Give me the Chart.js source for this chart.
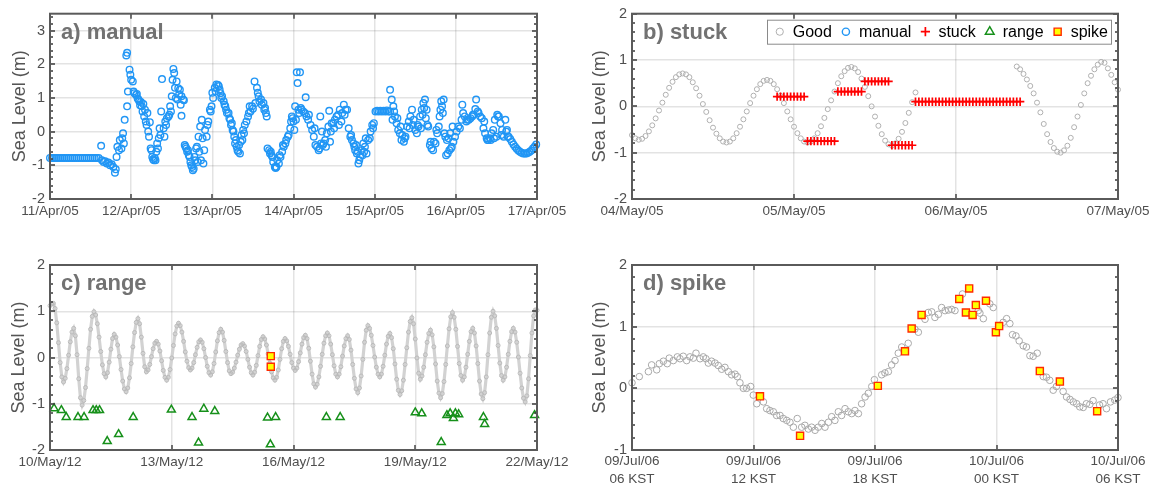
<!DOCTYPE html>
<html>
<head>
<meta charset="utf-8">
<script src="https://cdn.jsdelivr.net/npm/chart.js@4.4.1/dist/chart.umd.min.js"></script>
<style>
html, body { margin: 0; padding: 0; background: #fff; }
#wrap { position: relative; width: 1156px; height: 490px; overflow: hidden; }
canvas { position: absolute; }
</style>
</head>
<body>
<div id="wrap">
  <canvas id="pa" width="578" height="245" style="left:0;top:0;width:578px;height:245px"></canvas>
  <canvas id="pb" width="578" height="245" style="left:578px;top:0;width:578px;height:245px"></canvas>
  <canvas id="pc" width="578" height="245" style="left:0;top:245px;width:578px;height:245px"></canvas>
  <canvas id="pd" width="578" height="245" style="left:578px;top:245px;width:578px;height:245px"></canvas>
</div>
<script>
// ---------- data ----------

// a) manual : [days since 11/Apr/05 00h, sea level m]
const aManual = [
  [0,-0.78],[0.025,-0.78],[0.05,-0.78],[0.075,-0.78],[0.1,-0.78],[0.125,-0.78],[0.15,-0.78],[0.175,-0.78],[0.2,-0.78],
  [0.225,-0.78],[0.25,-0.78],[0.275,-0.78],[0.3,-0.78],[0.325,-0.78],[0.35,-0.78],[0.375,-0.78],[0.4,-0.78],[0.425,-0.78],
  [0.45,-0.78],[0.475,-0.78],[0.5,-0.78],[0.525,-0.78],[0.55,-0.78],[0.575,-0.78],[0.6,-0.78],
  [0.63,-0.42],[0.64,-0.85],[0.66,-0.9],[0.68,-0.88],[0.7,-0.95],[0.72,-0.92],[0.74,-1.0],[0.76,-0.97],[0.78,-1.05],
  [0.8,-1.22],[0.81,-1.12],[0.82,-0.75],[0.83,-0.45],[0.85,-0.55],[0.86,-0.25],[0.88,-0.5],[0.89,-0.2],[0.9,-0.05],
  [0.91,-0.35],[0.92,0.35],[0.94,2.26],[0.95,2.34],[0.95,0.75],[0.96,1.19],[0.98,1.84],[0.99,1.69],[1.0,1.54],[1.02,1.49],
  [1.03,1.19],[1.04,1.14],[1.06,1.09],[1.07,1.12],[1.08,0.98],[1.09,0.95],[1.1,0.9],[1.11,0.78],[1.12,0.88],[1.13,0.75],
  [1.14,0.6],[1.15,0.82],[1.16,0.45],[1.17,0.65],[1.18,0.3],[1.19,0.2],[1.2,0.55],[1.21,0.0],[1.22,-0.15],[1.23,0.28],
  [1.24,-0.5],[1.25,-0.55],[1.26,-0.75],[1.27,-0.82],[1.28,-0.85],[1.29,-0.78],[1.3,-0.85],[1.31,-0.6],[1.32,-0.35],
  [1.33,-0.5],[1.34,-0.2],[1.35,0.1],[1.36,-0.1],[1.37,0.6],[1.38,1.56],[1.4,0.1],[1.41,-0.15],[1.42,0.3],[1.43,0.2],
  [1.44,0.4],[1.46,0.45],[1.47,0.5],[1.48,0.75],[1.49,0.6],[1.5,1.05],[1.51,1.54],[1.52,1.86],[1.53,1.74],[1.54,1.3],
  [1.55,1.0],[1.56,1.49],[1.57,0.95],[1.58,1.29],[1.59,1.1],[1.6,1.24],[1.61,0.8],[1.62,1.05],[1.62,0.47],[1.64,0.95],
  [1.65,0.93],[1.66,-0.4],[1.67,-0.45],[1.68,-0.5],[1.69,-0.6],[1.7,-0.55],[1.71,-0.7],[1.72,-0.75],[1.73,-0.9],
  [1.74,-1.0],[1.75,-1.05],[1.76,-1.15],[1.77,-1.1],[1.78,-0.75],[1.79,-0.85],[1.8,-0.5],[1.81,-0.45],[1.82,-0.9],
  [1.83,-0.15],[1.84,-0.6],[1.85,0.15],[1.86,-0.85],[1.87,0.35],[1.88,-0.2],[1.89,-0.95],[1.9,-0.55],[1.91,0.05],
  [1.93,-0.15],[1.94,0.2],[1.95,0.3],[1.97,0.65],[1.98,0.6],[1.99,0.75],[2.0,1.15],[2.01,1.0],[2.03,1.3],[2.04,1.2],
  [2.05,1.4],[2.07,1.38],[2.08,1.35],[2.09,1.25],[2.1,1.14],[2.11,1.0],[2.12,1.05],[2.14,0.9],[2.15,0.8],[2.16,0.75],
  [2.17,0.65],[2.18,0.55],[2.2,0.55],[2.21,0.4],[2.22,0.35],[2.23,0.2],[2.24,0.25],[2.25,0.05],[2.26,0.0],[2.27,-0.15],
  [2.28,-0.35],[2.29,-0.25],[2.3,-0.45],[2.31,-0.55],[2.32,-0.6],[2.33,-0.4],[2.34,-0.65],[2.35,-0.3],[2.36,-0.1],
  [2.37,-0.25],[2.38,0.05],[2.39,-0.05],[2.4,0.2],[2.42,0.3],[2.44,0.45],[2.45,0.55],[2.46,0.75],[2.47,0.6],[2.49,0.75],
  [2.5,0.68],[2.52,1.49],[2.53,0.85],[2.55,1.3],[2.56,1.15],[2.57,1.05],[2.58,0.9],[2.6,0.95],[2.61,0.8],[2.63,0.85],
  [2.64,0.65],[2.65,0.7],[2.66,0.55],[2.67,0.45],[2.68,-0.5],[2.7,-0.55],[2.71,-0.65],[2.72,-0.6],[2.73,-0.7],[2.74,-0.75],
  [2.75,-0.9],[2.77,-1.05],[2.78,-1.08],[2.79,-1.05],[2.8,-0.85],[2.82,-0.95],[2.83,-0.7],[2.84,-0.75],[2.86,-0.6],
  [2.87,-0.4],[2.88,-0.45],[2.9,-0.35],[2.91,-0.25],[2.93,-0.15],[2.94,-0.1],[2.96,0.1],[2.97,0.3],[2.98,0.45],[2.99,0.4],
  [3.0,0.3],[3.01,0.05],[3.02,0.75],[3.03,0.35],[3.04,1.76],[3.05,1.44],[3.06,0.65],[3.07,0.55],[3.08,1.76],[3.09,0.7],
  [3.1,0.65],[3.12,0.6],[3.14,0.55],[3.15,1.02],[3.16,0.45],[3.18,0.35],[3.19,0.5],[3.21,0.2],[3.23,0.05],[3.25,-0.15],
  [3.26,0.1],[3.27,-0.4],[3.29,-0.45],[3.31,-0.55],[3.32,-0.5],[3.33,0.45],[3.34,-0.35],[3.35,0.0],[3.36,-0.4],[3.37,-0.35],
  [3.39,-0.25],[3.4,-0.45],[3.41,-0.05],[3.43,0.15],[3.44,0.62],[3.45,-0.3],[3.46,0.0],[3.47,0.25],[3.49,0.25],[3.5,0.1],
  [3.51,0.35],[3.53,0.45],[3.55,0.5],[3.56,0.2],[3.57,0.65],[3.59,0.3],[3.6,0.55],[3.62,0.8],[3.63,0.5],[3.64,0.65],
  [3.66,0.65],[3.68,0.1],[3.7,-0.15],[3.71,-0.1],[3.72,-0.25],[3.74,-0.35],[3.75,-0.45],[3.76,-0.55],[3.77,-0.4],
  [3.78,-0.65],[3.79,-0.6],[3.8,-0.95],[3.81,-0.85],[3.82,-0.75],[3.84,-0.55],[3.85,-0.7],[3.86,-0.35],[3.87,-0.6],
  [3.88,-0.45],[3.89,-0.2],[3.9,-0.65],[3.92,-0.25],[3.94,-0.2],[3.95,0.0],[3.97,0.2],[3.98,0.1],[3.99,0.25],
  [4.01,0.6],[4.03,0.62],[4.05,0.6],[4.07,0.62],[4.09,0.6],[4.11,0.62],[4.13,0.6],[4.15,0.63],[4.17,0.6],[4.19,1.24],
  [4.19,0.6],[4.21,0.95],[4.22,0.35],[4.23,0.75],[4.24,0.6],[4.25,0.45],[4.27,0.25],[4.28,0.4],[4.29,0.05],[4.31,-0.05],
  [4.32,0.15],[4.33,-0.25],[4.34,-0.1],[4.36,-0.3],[4.37,-0.2],[4.38,-0.15],[4.4,0.15],[4.42,0.3],[4.43,0.1],[4.44,0.45],
  [4.46,0.65],[4.47,0.2],[4.48,0.35],[4.5,0.05],[4.52,-0.05],[4.53,0.2],[4.54,0.15],[4.56,0.45],[4.57,0.1],[4.58,0.65],
  [4.59,0.5],[4.6,0.85],[4.61,0.7],[4.62,0.95],[4.63,0.4],[4.64,0.65],[4.65,0.2],[4.66,0.15],[4.68,-0.4],[4.69,-0.3],
  [4.7,-0.5],[4.72,-0.55],[4.73,-0.3],[4.75,-0.35],[4.76,0.05],[4.77,-0.05],[4.79,0.15],[4.8,0.45],[4.81,0.65],[4.82,0.9],
  [4.83,0.75],[4.84,0.55],[4.85,0.95],[4.86,-0.05],[4.87,-0.15],[4.88,-0.7],[4.89,-0.25],[4.9,-0.65],[4.91,-0.2],
  [4.92,-0.55],[4.93,-0.05],[4.94,-0.5],[4.95,-0.45],[4.96,0.15],[4.97,-0.3],[4.99,-0.15],[5.01,0.0],[5.03,0.15],
  [5.05,0.1],[5.07,0.35],[5.08,0.8],[5.09,0.55],[5.11,0.45],[5.13,0.3],[5.14,0.35],[5.16,0.35],[5.18,0.4],[5.2,0.45],
  [5.21,0.5],[5.22,0.5],[5.24,0.67],[5.25,0.95],[5.27,0.6],[5.28,0.55],[5.3,0.45],[5.32,0.4],[5.34,0.1],[5.35,0.3],
  [5.36,-0.05],[5.38,-0.2],[5.39,-0.25],[5.4,-0.25],[5.42,-0.2],[5.43,-0.25],[5.44,-0.05],[5.46,0.05],[5.47,-0.2],
  [5.48,0.35],[5.5,-0.15],[5.51,0.5],[5.52,0.45],[5.53,0.45],[5.55,0.25],[5.56,-0.1],[5.57,0.05],[5.59,-0.15],[5.61,0.35],
  [5.62,0.0],[5.63,0.05],[5.64,-0.15],[5.65,-0.15],[5.67,-0.22],[5.69,-0.3],[5.71,-0.38],[5.73,-0.45],[5.75,-0.51],
  [5.77,-0.56],[5.79,-0.6],[5.81,-0.63],[5.83,-0.65],[5.85,-0.65],[5.87,-0.65],[5.89,-0.63],[5.91,-0.6],[5.93,-0.56],
  [5.95,-0.5],[5.97,-0.45],[5.99,-0.38]
];
const aXTicks = [0, 1, 2, 3, 4, 5, 6];
const aXLabels = ['11/Apr/05', '12/Apr/05', '13/Apr/05', '14/Apr/05', '15/Apr/05', '16/Apr/05', '17/Apr/05'];
const aYTicks = [-2, -1, 0, 1, 2, 3];

// b) stuck : half-hourly samples from 04/May/05 00h (null = no good value)
const bStep = 1 / 48;
const bGood = [
  -0.62,-0.69,-0.72,-0.70,-0.64,-0.54,-0.41,-0.26,-0.09,0.08,0.25,0.40,0.53,0.63,0.69,0.71,
  0.69,0.63,0.52,0.39,0.23,0.05,-0.12,-0.30,-0.46,-0.59,-0.69,-0.76,-0.78,
  -0.76,-0.69,-0.58,-0.44,-0.28,-0.11,0.07,0.23,0.37,0.48,0.55,0.57,
  0.55,0.48,0.37,0.23,0.07,-0.11,-0.28,-0.44,-0.58,-0.69,-0.76,-0.78,
  -0.76,-0.69,-0.58,-0.43,-0.25,-0.06,0.13,0.32,0.50,0.65,0.76,0.83,0.85,
  0.82,0.74,0.60,0.42,0.22,0.00,-0.22,-0.42,-0.60,-0.74,-0.82,-0.85,
  -0.80,-0.70,-0.55,-0.36,-0.14,0.09,0.30,
  null,null,null,null,null,null,null,null,null,null,null,null,null,null,null,
  null,null,null,null,null,null,null,null,null,null,null,null,null,null,
  0.86,0.80,0.70,0.58,0.44,0.28,0.08,-0.13,-0.38,-0.60,-0.77,-0.90,-0.98,-1.00,-0.95,-0.85,
  -0.68,-0.45,-0.22,0.03,0.28,0.50,0.66,0.80,0.90,0.96,0.94,0.82,0.68,0.52,0.36
];
const bStuckStart = 43;   // sample index of the first stuck value
const bStuck = [
  0.21,0.21,0.21,0.21,0.21,0.21,0.21,0.21,0.21,
  -0.75,-0.75,-0.75,-0.75,-0.75,-0.75,-0.75,-0.75,-0.75,
  0.32,0.32,0.32,0.32,0.32,0.32,0.32,0.32,
  0.54,0.54,0.54,0.54,0.54,0.54,0.54,0.54,
  -0.84,-0.84,-0.84,-0.84,-0.84,-0.84,-0.84,
  0.10,0.10,0.10,0.10,0.10,0.10,0.10,0.10,0.10,0.10,0.10,0.10,0.10,0.10,0.10,0.10,
  0.10,0.10,0.10,0.10,0.10,0.10,0.10,0.10,0.10,0.10,0.10,0.10,0.10,0.10,0.10,0.10
];
const bXTicks = [0, 1, 2, 3];
const bXLabels = ['04/May/05', '05/May/05', '06/May/05', '07/May/05'];
const bYTicks = [-2, -1, 0, 1, 2];
const legendLabels = ['Good', 'manual', 'stuck', 'range', 'spike'];

// c) range : hourly samples from 10/May/12 00h
const cStep = 1 / 24;
const cGood = [
  1.12,1.16,1.17,1.06,0.75,0.32,-0.11,-0.42,-0.53,
  -0.45,-0.24,0.05,0.34,0.55,0.63,
  0.47,0.06,-0.46,-0.87,-1.03,
  -0.93,-0.65,-0.24,0.20,0.61,0.89,0.99,
  0.92,0.73,0.44,0.13,-0.16,-0.35,-0.42,
  -0.33,-0.10,0.18,0.41,0.50,
  0.44,0.27,0.02,-0.26,-0.51,-0.68,-0.74,
  -0.66,-0.44,-0.13,0.23,0.54,0.76,0.84,
  0.73,0.44,0.09,-0.20,-0.31,
  -0.27,-0.15,0.02,0.19,0.31,0.35,
  0.29,0.14,-0.07,-0.28,-0.43,-0.49,
  -0.43,-0.26,-0.01,0.26,0.51,0.68,0.74,
  0.69,0.55,0.35,0.12,-0.08,-0.22,-0.27,
  -0.23,-0.11,0.06,0.22,0.34,0.38,
  0.33,0.19,0.00,-0.19,-0.33,-0.38,
  -0.31,-0.13,0.12,0.36,0.54,0.61,
  0.55,0.37,0.13,-0.11,-0.29,-0.35,
  -0.32,-0.23,-0.10,0.05,0.18,0.27,0.30,
  0.25,0.13,-0.04,-0.21,-0.33,-0.38,
  -0.32,-0.17,0.04,0.24,0.39,0.45,
  0.40,0.27,0.08,-0.12,-0.31,-0.44,-0.49,
  -0.43,-0.27,-0.04,0.19,0.35,0.41,
  0.36,0.24,0.07,-0.11,-0.23,-0.28,
  -0.23,-0.09,0.10,0.29,0.43,0.48,
  0.41,0.20,-0.08,-0.36,-0.57,-0.64,
  -0.58,-0.42,-0.19,0.07,0.31,0.47,0.53,
  0.47,0.29,0.06,-0.18,-0.36,-0.42,
  -0.36,-0.20,0.03,0.25,0.41,0.47,
  0.39,0.16,-0.15,-0.45,-0.68,-0.76,
  -0.66,-0.40,-0.04,0.33,0.59,0.69,
  0.63,0.48,0.26,0.01,-0.21,-0.36,-0.42,
  -0.36,-0.19,0.05,0.29,0.46,0.52,
  0.43,0.19,-0.14,-0.47,-0.71,-0.80,
  -0.72,-0.49,-0.15,0.21,0.55,0.78,0.86,
  0.73,0.40,-0.01,-0.34,-0.47,
  -0.40,-0.21,0.06,0.33,0.52,0.59,
  0.49,0.23,-0.14,-0.51,-0.77,-0.87,
  -0.78,-0.52,-0.15,0.25,0.62,0.88,0.97,
  0.87,0.61,0.24,-0.13,-0.39,-0.49,
  -0.42,-0.21,0.07,0.35,0.56,0.63,
  0.53,0.25,-0.13,-0.51,-0.79,-0.89,
  -0.76,-0.42,0.06,0.53,0.87,1.00,
  0.90,0.63,0.26,-0.12,-0.39,-0.49,
  -0.42,-0.21,0.07,0.35,0.56,0.63,
  0.55,0.33,0.01,-0.34,-0.66,-0.88,-0.96,
  -0.83,-0.46,0.04,0.53,0.90,1.03,1.02
];
// [days since 10/May/12, m]
const cRange = [
  [0.10,-1.10],[0.28,-1.14],[0.40,-1.29],[0.69,-1.29],[0.84,-1.29],[1.06,-1.14],[1.14,-1.14],[1.22,-1.14],
  [1.41,-1.81],[1.69,-1.66],[2.05,-1.29],[2.99,-1.13],[3.50,-1.29],[3.66,-1.84],[3.79,-1.11],[4.06,-1.16],
  [5.36,-1.30],[5.43,-1.88],[5.56,-1.29],[6.81,-1.29],[7.15,-1.29],[9.00,-1.19],[9.16,-1.21],[9.64,-1.83],
  [9.78,-1.25],[9.86,-1.21],[9.94,-1.31],[9.99,-1.21],[10.07,-1.23],[10.68,-1.29],[10.71,-1.44],[11.94,-1.25]
];
const cSpike = [[5.44,0.03],[5.44,-0.20]];
const cXTicks = [0, 3, 6, 9, 12];
const cXLabels = ['10/May/12', '13/May/12', '16/May/12', '19/May/12', '22/May/12'];
const cYTicks = [-2, -1, 0, 1, 2];

// d) spike : [hours since 09/Jul/06 06 KST, m]
const dGood = [
  [0,0.09],[0.36,0.19],[0.81,0.27],[0.97,0.38],[1.22,0.30],[1.35,0.40],[1.55,0.44],[1.74,0.40],[1.84,0.49],
  [2.04,0.45],[2.24,0.51],[2.37,0.48],[2.53,0.52],[2.70,0.45],[2.86,0.51],[3.03,0.49],[3.16,0.57],[3.36,0.48],
  [3.52,0.51],[3.65,0.48],[3.77,0.41],[3.93,0.44],[4.10,0.41],[4.26,0.37],[4.43,0.31],[4.59,0.34],[4.76,0.27],
  [4.92,0.22],[5.09,0.23],[5.20,0.19],[5.33,0.09],[5.50,0.0],[5.66,0.0],[5.86,0.03],[5.99,-0.11],[6.16,-0.25],
  [6.49,-0.22],[6.65,-0.33],[6.81,-0.36],[6.98,-0.38],[7.14,-0.44],[7.31,-0.44],[7.47,-0.49],[7.64,-0.52],
  [7.80,-0.55],[7.97,-0.63],[8.16,-0.49],[8.38,-0.63],[8.54,-0.60],[8.71,-0.66],[8.87,-0.63],[9.04,-0.68],
  [9.20,-0.63],[9.37,-0.57],[9.53,-0.63],[9.70,-0.55],[9.86,-0.46],[10.02,-0.52],[10.19,-0.38],[10.35,-0.44],
  [10.52,-0.33],[10.68,-0.38],[10.85,-0.41],[11.01,-0.36],[11.18,-0.41],[11.34,-0.25],[11.51,-0.14],[11.67,-0.08],
  [11.84,0.03],[11.97,0.14],[12.33,0.22],[12.49,0.25],[12.66,0.27],[12.82,0.38],[12.99,0.45],[13.15,0.57],
  [13.32,0.67],[13.64,0.73],[13.97,0.96],[14.14,0.91],[14.47,1.12],[14.63,1.23],[14.80,1.24],[14.96,1.15],
  [15.13,1.20],[15.29,1.31],[15.46,1.26],[15.63,1.27],[15.79,1.28],[15.95,1.26],[16.32,1.53],[17.10,1.26],
  [17.18,1.22],[17.35,1.13],[17.67,1.37],[17.84,1.31],[18.33,1.07],[18.50,1.13],[18.66,1.05],[18.79,0.87],
  [18.96,0.85],[19.12,0.77],[19.32,0.69],[19.48,0.67],[19.65,0.53],[19.81,0.52],[20.01,0.57],[20.31,0.19],
  [20.47,0.18],[20.63,0.13],[20.80,-0.03],[20.96,0.03],[21.29,-0.05],[21.46,-0.14],[21.63,-0.18],[21.79,-0.22],
  [21.96,-0.25],[22.11,-0.30],[22.28,-0.31],[22.44,-0.25],[22.61,-0.26],[22.77,-0.20],[23.09,-0.27],[23.26,-0.25],
  [23.43,-0.33],[23.63,-0.22],[23.84,-0.19],[24.0,-0.15]
];
const dSpike = [
  [6.32,-0.13],[8.30,-0.77],[12.14,0.04],[13.48,0.60],[13.81,0.97],[14.30,1.19],[16.16,1.45],[16.49,1.23],
  [16.65,1.62],[16.82,1.19],[16.98,1.35],[17.48,1.42],[17.97,0.91],[18.13,1.01],[20.14,0.28],[21.13,0.11],[22.97,-0.37]
];
const dXTicks = [0, 6, 12, 18, 24];
const dXLabels = [['09/Jul/06', '06 KST'], ['09/Jul/06', '12 KST'], ['09/Jul/06', '18 KST'], ['10/Jul/06', '00 KST'], ['10/Jul/06', '06 KST']];
const dYTicks = [-1, 0, 1, 2];

// ---------- styles ----------
const FONT = '"Liberation Sans", Arial, Helvetica, sans-serif';
const TICK_COLOR = '#4f4f4f';
const GRID = 'rgba(0,0,0,0.11)';
const NONE = 'rgba(0,0,0,0)';
Chart.defaults.font.family = FONT;

const styles = {
  good:   {pointStyle: 'circle',   radius: 2.4, borderColor: '#b0b0b0', backgroundColor: NONE, borderWidth: 1},
  manual: {pointStyle: 'circle',   radius: 3.3, borderColor: '#2196f5', backgroundColor: NONE, borderWidth: 1.4},
  stuck:  {pointStyle: 'cross',    radius: 4.2, borderColor: '#ff0000', backgroundColor: NONE, borderWidth: 1.7},
  range:  {pointStyle: 'triangle', radius: 4.6, borderColor: '#16901a', backgroundColor: NONE, borderWidth: 1.5},
  spike:  {pointStyle: 'rect',     radius: 5,   borderColor: '#ff2a00', backgroundColor: '#ffff00', borderWidth: 1.4}
};
const legendRadius = [3.6, 3.6, 4.6, 5, 5];

function pairs(list) { return list.map(p => ({x: p[0], y: p[1]})); }
function sampled(values, first, step) {
  const out = [];
  values.forEach((v, i) => { if (v !== null) out.push({x: (first + i) * step, y: v}); });
  return out;
}
function dataset(label, data, st, extra) {
  return Object.assign({
    label: label, data: data, clip: false, order: 1,
    pointStyle: st.pointStyle, pointRadius: st.radius, pointHoverRadius: st.radius,
    pointBorderColor: st.borderColor, pointBackgroundColor: st.backgroundColor,
    pointBorderWidth: st.borderWidth
  }, extra || {});
}

const drawPoint = (Chart.helpers && Chart.helpers.drawPoint) ? Chart.helpers.drawPoint : function (ctx, o, x, y) {
  ctx.beginPath();
  ctx.arc(x, y, o.radius, 0, Math.PI * 2);
  ctx.fill(); ctx.stroke();
};

function drawLegend(ctx, ca) {
  ctx.font = '16px ' + FONT;
  const widths = legendLabels.map(t => ctx.measureText(t).width);
  let w = 6;
  widths.forEach(tw => { w += 20 + tw + 7; });
  w = w - 7 + 3;
  const h = 24, bx = ca.right - 7 - w, by = ca.top + 6;
  ctx.fillStyle = '#fff';
  ctx.fillRect(bx, by, w, h);
  ctx.strokeStyle = '#8a8a8a';
  ctx.lineWidth = 1;
  ctx.strokeRect(Math.round(bx) + 0.5, by + 0.5, Math.round(w), h);
  const keys = ['good', 'manual', 'stuck', 'range', 'spike'];
  let x = bx + 6;
  const cy = by + h / 2;
  legendLabels.forEach((t, i) => {
    const st = styles[keys[i]];
    ctx.save();
    ctx.strokeStyle = st.borderColor;
    ctx.fillStyle = st.backgroundColor;
    ctx.lineWidth = st.borderWidth;
    drawPoint(ctx, {pointStyle: st.pointStyle, radius: legendRadius[i], rotation: 0, borderWidth: st.borderWidth}, x + 7, cy);
    ctx.restore();
    ctx.fillStyle = '#000';
    ctx.textAlign = 'left';
    ctx.textBaseline = 'middle';
    ctx.fillText(t, x + 20, cy + 1);
    x += 20 + widths[i] + 7;
  });
}

// frame, inward MATLAB-style ticks, panel title and legend
const framePlugin = {
  id: 'frame',
  afterDatasetsDraw(chart, args, opts) {
    const ctx = chart.ctx, ca = chart.chartArea;
    const xs = chart.scales.x, ys = chart.scales.y;
    ctx.save();
    ctx.strokeStyle = '#3a3a3a';
    ctx.lineWidth = 1.4;
    ctx.beginPath();
    xs.ticks.forEach(t => {
      const px = Math.round(xs.getPixelForValue(t.value));
      ctx.moveTo(px, ca.bottom); ctx.lineTo(px, ca.bottom - 5);
      ctx.moveTo(px, ca.top); ctx.lineTo(px, ca.top + 5);
    });
    ys.ticks.forEach(t => {
      const py = Math.round(ys.getPixelForValue(t.value));
      ctx.moveTo(ca.left, py); ctx.lineTo(ca.left + 5, py);
      ctx.moveTo(ca.right, py); ctx.lineTo(ca.right - 5, py);
    });
    const n = Math.floor((ys.max - ys.min) / 0.2 + 1e-6);
    for (let k = 0; k <= n; k++) {
      const py = Math.round(ys.getPixelForValue(ys.min + k * 0.2));
      ctx.moveTo(ca.left, py); ctx.lineTo(ca.left + 3, py);
      ctx.moveTo(ca.right, py); ctx.lineTo(ca.right - 3, py);
    }
    ctx.stroke();
    ctx.strokeStyle = '#5a5a5a';
    ctx.lineWidth = 2;
    ctx.strokeRect(ca.left, ca.top, ca.right - ca.left, ca.bottom - ca.top);
    ctx.font = 'bold 22px ' + FONT;
    ctx.fillStyle = '#727272';
    ctx.textAlign = 'left';
    ctx.textBaseline = 'middle';
    ctx.fillText(opts.title, ca.left + 11, ca.top + 19);
    if (opts.legend) drawLegend(ctx, ca);
    ctx.restore();
  }
};

function makePanel(id, p) {
  return new Chart(document.getElementById(id), {
    type: 'scatter',
    data: {datasets: p.datasets},
    options: {
      responsive: false,
      animation: false,
      devicePixelRatio: 1,
      events: [],
      layout: {padding: p.padding},
      plugins: {
        legend: {display: false},
        tooltip: {enabled: false},
        frame: {title: p.title, legend: !!p.legend}
      },
      scales: {
        x: {
          type: 'linear',
          min: p.xTicks[0],
          max: p.xTicks[p.xTicks.length - 1],
          afterBuildTicks: s => { s.ticks = p.xTicks.map(v => ({value: v})); },
          afterFit: s => { s.height = p.xHeight; },
          ticks: {
            autoSkip: false, maxRotation: 0, minRotation: 0, padding: p.xPad,
            color: TICK_COLOR, font: {size: 13.5, lineHeight: 1.3},
            callback: (v, i) => p.xLabels[i]
          },
          grid: {color: GRID, lineWidth: 1.5, drawTicks: false},
          border: {display: false}
        },
        y: {
          type: 'linear',
          min: p.yMin,
          max: p.yMax,
          afterBuildTicks: s => { s.ticks = p.yTicks.map(v => ({value: v})); },
          afterFit: s => { s.width = p.yWidth; },
          ticks: {padding: 5, color: TICK_COLOR, font: {size: 14.5}, callback: v => String(v)},
          grid: {color: GRID, lineWidth: 1.5, drawTicks: false},
          border: {display: false},
          title: {
            display: true, text: 'Sea Level (m)', color: '#555',
            font: {size: 18, lineHeight: 1.2}, padding: {top: p.titlePad, bottom: 0}
          }
        }
      }
    },
    plugins: [framePlugin]
  });
}

makePanel('pa', {
  title: 'a) manual',
  datasets: [dataset('manual', pairs(aManual), styles.manual)],
  xTicks: aXTicks, xLabels: aXLabels, yTicks: aYTicks, yMin: -2, yMax: 3.5,
  padding: {left: 0, right: 41, top: 13, bottom: 0}, yWidth: 50, xHeight: 46, xPad: 4, titlePad: 9
});

makePanel('pb', {
  title: 'b) stuck',
  legend: true,
  datasets: [
    dataset('stuck', sampled(bStuck, bStuckStart, bStep), styles.stuck, {order: 1}),
    dataset('Good', sampled(bGood, 0, bStep), styles.good, {order: 2, pointRadius: 2.5})
  ],
  xTicks: bXTicks, xLabels: bXLabels, yTicks: bYTicks, yMin: -2, yMax: 2,
  padding: {left: 0, right: 38, top: 13, bottom: 0}, yWidth: 54, xHeight: 46, xPad: 4, titlePad: 11
});

makePanel('pc', {
  title: 'c) range',
  datasets: [
    dataset('spike', pairs(cSpike), styles.spike, {order: 0}),
    dataset('range', pairs(cRange), styles.range, {order: 1}),
    dataset('Good', sampled(cGood, 0, cStep), styles.good,
      {order: 2, pointRadius: 2, pointBorderColor: '#bababa', showLine: true, borderColor: '#d2d2d2', borderWidth: 3.2})
  ],
  xTicks: cXTicks, xLabels: cXLabels, yTicks: cYTicks, yMin: -2, yMax: 2,
  padding: {left: 0, right: 41, top: 20, bottom: 0}, yWidth: 50, xHeight: 40, xPad: 4, titlePad: 8
});

makePanel('pd', {
  title: 'd) spike',
  datasets: [
    dataset('spike', pairs(dSpike), styles.spike, {order: 1}),
    dataset('Good', pairs(dGood), styles.good, {order: 2, pointRadius: 3.3, pointBorderColor: '#a9a9a9'})
  ],
  xTicks: dXTicks, xLabels: dXLabels, yTicks: dYTicks, yMin: -1, yMax: 2,
  padding: {left: 0, right: 38, top: 20, bottom: 0}, yWidth: 54, xHeight: 40, xPad: 3, titlePad: 11
});
</script>
</body>
</html>
